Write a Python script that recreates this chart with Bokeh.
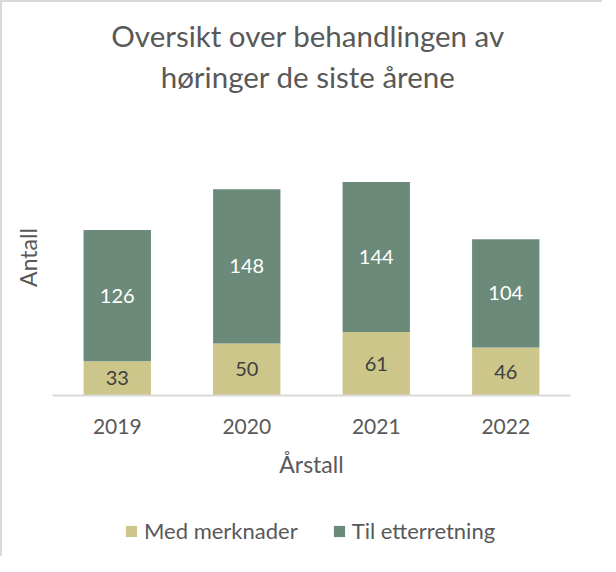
import numpy as np
from bokeh.plotting import figure
from bokeh.layouts import column
from bokeh.models import (ColumnDataSource, FactorRange, Range1d, Legend, LegendItem,
                          LabelSet, FixedTicker)
from bokeh.core.properties import value
from bokeh.embed import file_html
from bokeh.resources import INLINE

years = ["2019", "2020", "2021", "2022"]
med_merknader = [33, 50, 61, 46]
til_etterretning = [126, 148, 144, 104]
series_names = ["Med merknader", "Til etterretning"]
title_lines = ["Oversikt over behandlingen av", "høringer de siste årene"]

OLIVE = "#CCC68A"
GREEN = "#6C8A7A"
TEXT = "#595959"
FONT = "Lato"
W = 600

# ---------- title strip ----------
tf = figure(width=W, height=100, x_range=Range1d(0, W), y_range=Range1d(100, 0),
            output_backend="svg", toolbar_location=None,
            min_border_left=0, min_border_right=0, min_border_top=0, min_border_bottom=0)
tf.axis.visible = False
tf.grid.visible = False
tf.outline_line_color = None
tf.text(x=[296, 296], y=[33, 74], text=title_lines, text_align="center",
        text_baseline="middle", text_font=value(FONT), text_font_size="29.5px",
        text_color=TEXT)

# ---------- main chart ----------
med = np.array(med_merknader)
til = np.array(til_etterretning)
source = ColumnDataSource(dict(
    year=years, med=med, til=til,
    med_mid=med / 2.0, til_mid=med + til / 2.0,
    med_lbl=[str(v) for v in med], til_lbl=[str(v) for v in til],
))

p = figure(x_range=FactorRange(factors=years), y_range=Range1d(0, 265),
           width=W, height=410, output_backend="svg", toolbar_location=None,
           min_border_left=50, min_border_right=32, min_border_bottom=117,
           min_border_top=17)
p.title.visible = False
p.outline_line_color = None
p.grid.grid_line_color = None

rs = p.vbar_stack(["med", "til"], x="year", width=0.52, color=[OLIVE, GREEN],
                  line_color=None, source=source)

p.add_layout(LabelSet(x="year", y="med_mid", text="med_lbl", source=source,
                      text_align="center", text_baseline="middle",
                      text_font=value(FONT), text_font_size="20px", text_color="#404040"))
p.add_layout(LabelSet(x="year", y="til_mid", text="til_lbl", source=source,
                      text_align="center", text_baseline="middle",
                      text_font=value(FONT), text_font_size="20px", text_color="white"))

xa = p.xaxis[0]
xa.axis_line_color = "#D9D9D9"
xa.axis_line_width = 2
xa.major_tick_line_color = None
xa.minor_tick_line_color = None
xa.major_label_text_font = FONT
xa.major_label_text_font_size = "21px"
xa.major_label_text_color = TEXT
xa.major_label_standoff = 17
xa.axis_label = "Årstall"
xa.axis_label_text_font = FONT
xa.axis_label_text_font_size = "23px"
xa.axis_label_text_font_style = "normal"
xa.axis_label_text_color = TEXT
xa.axis_label_standoff = 13

ya = p.yaxis[0]
ya.ticker = FixedTicker(ticks=[])
ya.axis_line_color = None
ya.major_tick_line_color = None
ya.minor_tick_line_color = None
ya.major_label_standoff = 0
ya.axis_label = "Antall"
ya.axis_label_text_font = FONT
ya.axis_label_text_font_size = "23px"
ya.axis_label_text_font_style = "normal"
ya.axis_label_text_color = TEXT
ya.axis_label_standoff = 11

# ---------- legend strip ----------
lf = figure(width=W, height=44, x_range=Range1d(0, 1), y_range=Range1d(0, 1),
            output_backend="svg", toolbar_location=None,
            min_border_left=0, min_border_right=0, min_border_top=0, min_border_bottom=0)
lf.axis.visible = False
lf.grid.visible = False
lf.outline_line_color = None
# legend swatches only: one off-screen quad each, so the legend has something to draw
d0 = lf.quad(left=[5], right=[6], top=[6], bottom=[5], fill_color=OLIVE, line_color=None)
d1 = lf.quad(left=[5], right=[6], top=[6], bottom=[5], fill_color=GREEN, line_color=None)
legend = Legend(items=[LegendItem(label=series_names[0], renderers=[d0]),
                       LegendItem(label=series_names[1], renderers=[d1])],
                orientation="horizontal", location=(72, 12),
                label_text_font=FONT, label_text_font_size="22px", label_text_color=TEXT,
                glyph_width=14, glyph_height=14, label_standoff=6, spacing=34,
                border_line_color=None, background_fill_alpha=0, padding=0, margin=0)
lf.add_layout(legend, "center")

layout = column(tf, p, lf, spacing=0)
layout.styles = {"border-left": "2px solid #D9D9D9", "border-top": "2px solid #D9D9D9"}

open("out.html", "w").write(file_html(layout, INLINE))
